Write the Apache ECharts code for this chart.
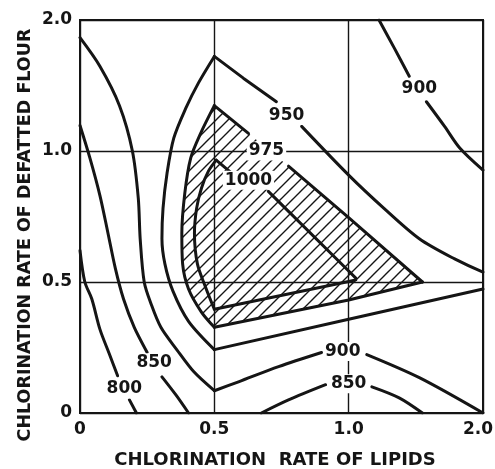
<!DOCTYPE html>
<html>
<head>
<meta charset="utf-8">
<script src="https://cdn.jsdelivr.net/npm/echarts@6/dist/echarts.min.js"></script>
<style>
  html, body { margin: 0; padding: 0; background: #fff; }
</style>
</head>
<body>
<div id="main" style="width: 495px;height:469px;"></div>
<script>
// tick labels (the axis is drawn with equal steps: 0, 0.5, 1.0, 2.0)
const xTicks = ['0', '0.5', '1.0', '2.0']
const yTicks = ['0', '0.5', '1.0', '2.0']

// contour pieces, [lipids, defatted flour]
const c800a = [[0, 0.62], [0.018, 0.5], [0.044, 0.435], [0.074, 0.32], [0.11, 0.223], [0.14, 0.142]]
const c800b = [[0.184, 0.05], [0.21, 0]]
const c850a = [[0, 1.195], [0.037, 0.973], [0.074, 0.831], [0.103, 0.692], [0.132, 0.55], [0.162, 0.435], [0.202, 0.327], [0.25, 0.231]]
const c850b = [[0.305, 0.138], [0.357, 0.069], [0.404, 0]]
const c850c = [[0.675, 0], [0.776, 0.05], [0.914, 0.108]]
const c850d = [[1.173, 0.1], [1.376, 0.058], [1.549, 0]]
const c900a = [[0, 1.865], [0.074, 1.647], [0.147, 1.346], [0.195, 1.0], [0.217, 0.819], [0.224, 0.665], [0.239, 0.5], [0.265, 0.415], [0.301, 0.327], [0.36, 0.242], [0.423, 0.158], [0.5, 0.085]]
const c900b = [[0.5, 0.085], [0.59, 0.119], [0.739, 0.177], [0.899, 0.231]]
const c900c = [[1.135, 0.223], [1.526, 0.135], [2, 0]]
const c900d = [[1.226, 2], [1.338, 1.789], [1.451, 1.571]]
const c900e = [[1.579, 1.376], [1.714, 1.188], [1.827, 1.023], [2, 0.927]]
const c950Left = [[0.5, 0.242], [0.404, 0.35], [0.346, 0.465], [0.316, 0.569], [0.305, 0.665], [0.309, 0.781], [0.324, 0.915], [0.349, 1.098], [0.393, 1.323], [0.441, 1.52], [0.5, 1.722]]
const c950TopA = [[0.5, 1.722], [0.608, 1.556], [0.731, 1.376]]
const c950TopB = [[0.825, 1.188], [1.0, 0.908], [1.263, 0.781], [1.526, 0.665], [1.789, 0.588], [2, 0.538]]
const c950Bottom = [[0.5, 0.242], [1.0, 0.358], [2, 0.473]]
const c975Left = [[0.5, 0.327], [0.452, 0.385], [0.404, 0.473], [0.382, 0.569], [0.379, 0.685], [0.39, 0.838], [0.412, 0.973], [0.449, 1.135], [0.5, 1.346]]
const c975TopA = [[0.5, 1.346], [0.627, 1.135]]
const c975TopB = [[0.776, 0.942], [1.0, 0.746], [1.549, 0.5]]
const c975Bottom = [[1.549, 0.5], [1.0, 0.431], [0.5, 0.327]]
const c1000Left = [[0.5, 0.396], [0.467, 0.481], [0.437, 0.569], [0.426, 0.685], [0.434, 0.781], [0.452, 0.858], [0.478, 0.923], [0.507, 0.965]]
const c1000TopA = [[0.507, 0.965], [0.56, 0.919]]
const c1000TopB = [[0.701, 0.846], [1.0, 0.542], [1.053, 0.515]]
const c1000Bottom = [[1.053, 0.508], [1.0, 0.502], [0.5, 0.396]]

// contour labels: text, lipids, flour
const contourLabels = [
  ['800', 0.165, 0.092],
  ['850', 0.276, 0.192],
  ['850', 1.0, 0.112],
  ['900', 0.978, 0.235],
  ['900', 1.526, 1.474],
  ['950', 0.769, 1.271],
  ['975', 0.694, 1.0],
  ['1000', 0.627, 0.888]
]

const curvedPieces = [c800a, c850a, c850b, c850c, c850d, c900a, c900b, c900c, c900d, c900e, c950Left, c950TopB, c975Left, c1000Left]
const straightPieces = [c800b, c950TopA, c950Bottom, c975TopA, c975TopB, c975Bottom, c1000TopA, c1000TopB, c1000Bottom]

// the hatched area is everything inside 975
const hatchOutline = c975Left.concat(c975TopA.slice(1), c975TopB, c975Bottom.slice(1))

// 0, 0.5, 1, 2 sit at equal steps on the axis
function toAxis (v) {
  return v <= 1 ? v * 2 : v + 1
}
function toPoints (arr) {
  return arr.map(p => [toAxis(p[0]), toAxis(p[1])])
}

const ink = '#151515'
const font = 'DejaVu Sans'

// diagonal hatch pattern
const pc = document.createElement('canvas')
pc.width = 12
pc.height = 12
const pctx = pc.getContext('2d')
pctx.strokeStyle = ink
pctx.lineWidth = 1.4
pctx.beginPath()
pctx.moveTo(-1, 13); pctx.lineTo(13, -1)
pctx.moveTo(-3, 3); pctx.lineTo(3, -3)
pctx.moveTo(9, 15); pctx.lineTo(15, 9)
pctx.stroke()

const series = []
curvedPieces.forEach(arr => {
  series.push({
    type: 'line',
    data: toPoints(arr),
    smooth: 0.3,
    showSymbol: false,
    symbol: 'none',
    z: 3,
    lineStyle: { color: ink, width: 3, cap: 'round', join: 'round' }
  })
})
straightPieces.forEach(arr => {
  series.push({
    type: 'line',
    data: toPoints(arr),
    showSymbol: false,
    symbol: 'none',
    z: 3,
    lineStyle: { color: ink, width: 3, cap: 'round', join: 'round' }
  })
})
series.push({
  type: 'custom',
  silent: true,
  z: 2,
  data: [[0, 0]],
  renderItem (params, api) {
    return {
      type: 'polygon',
      shape: { points: toPoints(hatchOutline).map(p => api.coord(p)) },
      style: { fill: { image: pc, repeat: 'repeat' }, stroke: null }
    }
  }
})
series.push({
  type: 'scatter',
  symbolSize: 0,
  z: 5,
  itemStyle: { color: ink, opacity: 1 },
  data: contourLabels.map(l => ({ name: l[0], value: [toAxis(l[1]), toAxis(l[2])] })),
  label: {
    show: true,
    position: 'inside',
    formatter: '{b}',
    color: ink,
    textBorderWidth: 0,
    fontFamily: font,
    fontWeight: 'bold',
    fontSize: 17,
    backgroundColor: '#fff',
    padding: [1, 2]
  }
})

const myChart = echarts.init(document.getElementById('main'))
myChart.setOption({
  animation: false,
  backgroundColor: '#fff',
  grid: { left: 80, right: 12, top: 20, bottom: 56, outerBoundsMode: 'none', show: true, borderColor: ink, borderWidth: 2 },
  xAxis: {
    type: 'value',
    min: 0,
    max: 3,
    interval: 1,
    axisLine: { show: true, lineStyle: { color: ink, width: 2 } },
    axisTick: { show: false },
    axisLabel: {
      formatter: v => (v === 3 ? '{last|' + xTicks[v] + '}' : xTicks[v]),
      color: ink,
      fontFamily: font,
      fontWeight: 'bold',
      fontSize: 17,
      margin: 8,
      showMaxLabel: true,
      rich: { last: { color: ink, fontFamily: font, fontWeight: 'bold', fontSize: 17, padding: [0, 10, 0, 0] } }
    },
    splitLine: { lineStyle: { color: ink, width: 1.4 } }
  },
  yAxis: {
    type: 'value',
    min: 0,
    max: 3,
    interval: 1,
    axisLine: { show: true, lineStyle: { color: ink, width: 2 } },
    axisTick: { show: false },
    axisLabel: { formatter: v => yTicks[v], color: ink, fontFamily: font, fontWeight: 'bold', fontSize: 17, margin: 8 },
    splitLine: { lineStyle: { color: ink, width: 1.4 } }
  },
  graphic: [
    {
      type: 'text',
      x: 275,
      y: 460,
      style: { text: 'CHLORINATION  RATE OF LIPIDS', fill: ink, font: 'bold 18px "DejaVu Sans"', align: 'center', verticalAlign: 'middle' }
    },
    {
      type: 'text',
      x: 25,
      y: 235,
      rotation: Math.PI / 2,
      style: { text: 'CHLORINATION RATE OF DEFATTED FLOUR', fill: ink, font: 'bold 17.5px "DejaVu Sans"', align: 'center', verticalAlign: 'middle' }
    }
  ],
  series: series
})
</script>
</body>
</html>
